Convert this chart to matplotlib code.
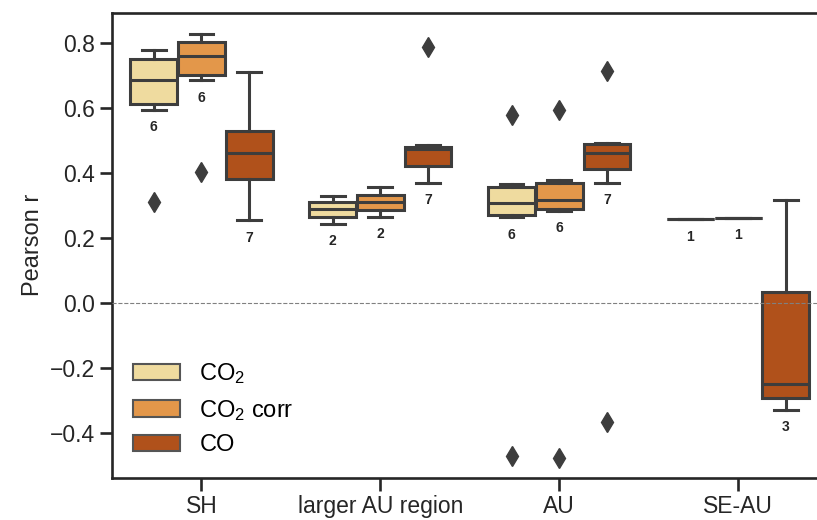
import numpy as np
import matplotlib
matplotlib.use("Agg")
import matplotlib.pyplot as plt
from matplotlib.patches import Patch

plt.rcParams['font.family'] = ['Liberation Sans', 'DejaVu Sans']
plt.rcParams['mathtext.default'] = 'regular'

# regions on the x axis and the three tracers
groups = ["SH", "larger AU region", "AU", "SE-AU"]
species = ["CO$_2$", "CO$_2$ corr", "CO"]
colors = ["#efdb9f", "#e3974a", "#b0511b"]

# box statistics (one value per region)
co2_whislo = [0.594, 0.243, 0.264, 0.258]
co2_q1 = [0.611, 0.264, 0.271, 0.258]
co2_med = [0.686, 0.289, 0.308, 0.258]
co2_q3 = [0.750, 0.310, 0.355, 0.258]
co2_whishi = [0.776, 0.330, 0.366, 0.258]
co2_fliers = [[0.31], [], [0.578, -0.471], []]
co2_n = [6, 2, 6, 1]

corr_whislo = [0.685, 0.265, 0.283, 0.262]
corr_q1 = [0.700, 0.286, 0.288, 0.262]
corr_med = [0.760, 0.310, 0.317, 0.262]
corr_q3 = [0.803, 0.332, 0.368, 0.262]
corr_whishi = [0.828, 0.356, 0.378, 0.262]
corr_fliers = [[0.403], [], [0.592, -0.475], []]
corr_n = [6, 2, 6, 1]

co_whislo = [0.255, 0.369, 0.370, -0.328]
co_q1 = [0.380, 0.422, 0.411, -0.291]
co_med = [0.460, 0.474, 0.462, -0.250]
co_q3 = [0.527, 0.479, 0.488, 0.033]
co_whishi = [0.711, 0.486, 0.491, 0.315]
co_fliers = [[], [0.786], [0.714, -0.367], []]
co_n = [7, 7, 7, 3]

tables = [
    (co2_whislo, co2_q1, co2_med, co2_q3, co2_whishi, co2_fliers, co2_n),
    (corr_whislo, corr_q1, corr_med, corr_q3, corr_whishi, corr_fliers, corr_n),
    (co_whislo, co_q1, co_med, co_q3, co_whishi, co_fliers, co_n),
]

edge = "#3d3d3d"
dark = "#262626"

fig = plt.figure(figsize=(8.17, 5.2), dpi=100)
ax = fig.add_axes([112 / 817, 42.3 / 520, 715.6 / 817, 465 / 520])

step = 0.8 / 3
x = np.arange(len(groups))
for i, (lo, q1, med, q3, hi, fl, n) in enumerate(tables):
    stats = []
    for j in range(len(groups)):
        stats.append({"whislo": lo[j], "q1": q1[j], "med": med[j],
                      "q3": q3[j], "whishi": hi[j], "fliers": fl[j]})
    pos = x + (i - 1) * step
    ax.bxp(stats, positions=pos, widths=step * 0.98, capwidths=step * 0.5,
           patch_artist=True, manage_ticks=False,
           boxprops=dict(facecolor=colors[i], edgecolor=edge, linewidth=2.2),
           medianprops=dict(color=edge, linewidth=2.2),
           whiskerprops=dict(color=edge, linewidth=2.2),
           capprops=dict(color=edge, linewidth=2.2),
           flierprops=dict(marker="d", markersize=10, markerfacecolor=edge,
                           markeredgecolor=edge))
    # sample counts under each box
    for j in range(len(groups)):
        ax.text(pos[j], lo[j] - 0.054, str(n[j]), ha="center", va="center",
                fontsize=10, fontweight="bold", color=dark)

ax.axhline(0, color="gray", linestyle="--", linewidth=0.8, zorder=10)

ax.set_xlim(-0.5, 3.5)
ax.set_ylim(-0.537, 0.892)
ax.set_xticks(x)
ax.set_xticklabels(groups)
ax.set_yticks([-0.4, -0.2, 0.0, 0.2, 0.4, 0.6, 0.8])
ax.set_ylabel("Pearson r", fontsize=17, color=dark)
ax.tick_params(labelsize=16.5, length=9, width=1.9, color=dark, labelcolor=dark)
for s in ax.spines.values():
    s.set_linewidth(1.9)
    s.set_color(dark)

handles = [Patch(facecolor=c, edgecolor="#555555", linewidth=1.5) for c in colors]
ax.legend(handles, species, loc="lower left", frameon=False, fontsize=17)

fig.savefig("out.png", dpi=100)
